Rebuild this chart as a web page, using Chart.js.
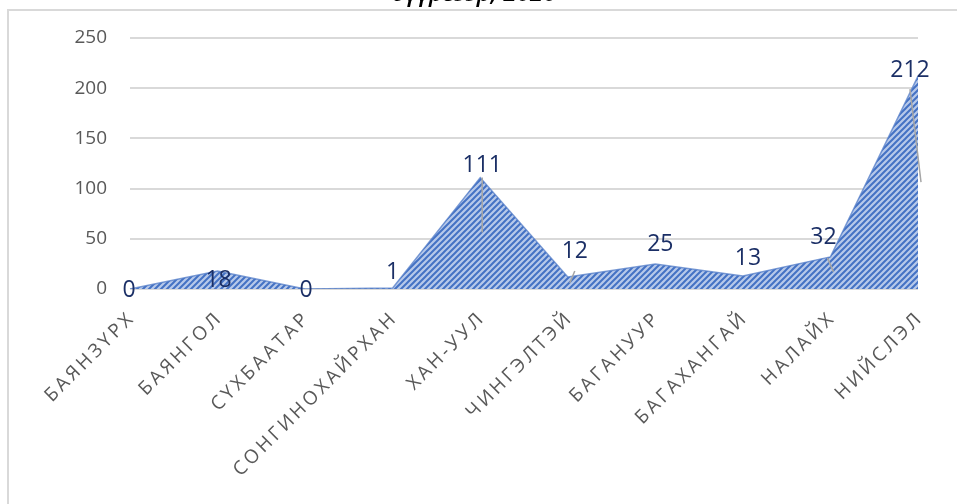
<!DOCTYPE html>
<html>
<head>
<meta charset="utf-8">
<script src="https://cdn.jsdelivr.net/npm/chart.js@4"></script>
<style>
  html, body { margin: 0; padding: 0; background: #fff; }
  #wrap { width: 957px; height: 504px; }
</style>
</head>
<body>
<div id="wrap"><canvas id="areaChart" width="957" height="504"></canvas></div>
<script>
// data
var districts = ['БАЯНЗҮРХ', 'БАЯНГОЛ', 'СҮХБААТАР', 'СОНГИНОХАЙРХАН', 'ХАН-УУЛ',
                 'ЧИНГЭЛТЭЙ', 'БАГАНУУР', 'БАГАХАНГАЙ', 'НАЛАЙХ', 'НИЙСЛЭЛ'];
var counts = [0, 18, 0, 1, 111, 12, 25, 13, 32, 212];
var yTicks = [0, 50, 100, 150, 200, 250];
var titleTail = 'дүүргээр, 2020';

// where each value label sits relative to its point (px)
var labelShift = [[-1, 1], [1, 10], [1, 1], [0, -16], [2, -12], [7, -25], [5, -19], [5, -17], [-7, -19], [-8, -6]];
// grey leader lines, relative to the point: [x1, y1, x2, y2]
var leaders = { 4: [2, 0, 2, 55], 5: [7, -6, 2, 6], 8: [-3, 1, 3, 15], 9: [-8, 13, 3, 106] };

function hatch() {
    var c = document.createElement('canvas');
    c.width = 6; c.height = 6;
    var g = c.getContext('2d');
    g.fillStyle = '#b7c9ea';
    g.fillRect(0, 0, 6, 6);
    g.strokeStyle = '#4472c4';
    g.lineWidth = 2;
    g.beginPath();
    g.moveTo(-1, 7); g.lineTo(7, -1);
    g.moveTo(-4, 4); g.lineTo(4, -4);
    g.moveTo(2, 10); g.lineTo(10, 2);
    g.stroke();
    return g.createPattern(c, 'repeat');
}

// Excel spaces the category letters out
function spaced(s) {
    return s.split('').join('\u2009');
}

var frameAndLabels = {
    id: 'frameAndLabels',
    beforeDraw: function(chart) {
        var ctx = chart.ctx;
        ctx.save();
        ctx.strokeStyle = '#d9d9d9';
        ctx.lineWidth = 2;
        ctx.beginPath();
        ctx.moveTo(8, 504); ctx.lineTo(8, 10); ctx.lineTo(957, 10);
        ctx.stroke();
        ctx.restore();
    },
    afterDraw: function(chart) {
        var ctx = chart.ctx;
        var pts = chart.getDatasetMeta(0).data;
        ctx.save();
        ctx.strokeStyle = '#a6a6a6';
        ctx.lineWidth = 1.5;
        Object.keys(leaders).forEach(function(k) {
            var p = pts[k], l = leaders[k];
            ctx.beginPath();
            ctx.moveTo(p.x + l[0], p.y + l[1]);
            ctx.lineTo(p.x + l[2], p.y + l[3]);
            ctx.stroke();
        });
        ctx.fillStyle = '#1b2f66';
        ctx.font = '23px "Open Sans"';
        ctx.textAlign = 'center';
        ctx.textBaseline = 'middle';
        pts.forEach(function(p, i) {
            ctx.fillText(String(counts[i]), p.x + labelShift[i][0], p.y + labelShift[i][1]);
        });
        ctx.fillStyle = '#000';
        ctx.font = 'italic 600 24px "Open Sans"';
        ctx.textBaseline = 'alphabetic';
        ctx.fillText(titleTail, 474, 1);
        ctx.restore();
    }
};

var ctx = document.getElementById('areaChart').getContext('2d');
new Chart(ctx, {
    type: 'line',
    data: {
        labels: districts,
        datasets: [{
            data: counts,
            fill: 'origin',
            backgroundColor: hatch(),
            borderColor: 'rgba(84,125,200,0.75)',
            borderWidth: 1.5,
            pointRadius: 0,
            tension: 0
        }]
    },
    options: {
        responsive: false,
        animation: false,
        layout: { padding: { left: 0, top: 38, right: 39, bottom: 0 } },
        plugins: { legend: { display: false }, tooltip: { enabled: false } },
        scales: {
            x: {
                offset: false,
                grid: { display: false },
                border: { display: false },
                ticks: {
                    color: '#595959',
                    font: { family: 'Open Sans', size: 19 },
                    minRotation: 45,
                    maxRotation: 45,
                    padding: 12,
                    autoSkip: false,
                    callback: function(v, i) { return spaced(districts[i]); }
                },
                afterFit: function(s) { s.height = 215; }
            },
            y: {
                min: 0,
                max: 250,
                afterBuildTicks: function(s) { s.ticks = yTicks.map(function(v) { return { value: v }; }); },
                grid: { color: '#d9d9d9', lineWidth: 2, drawTicks: false },
                border: { display: false },
                ticks: {
                    color: '#595959',
                    font: { family: 'Open Sans', size: 19 },
                    padding: 23
                },
                afterFit: function(s) { s.width = 130; }
            }
        }
    },
    plugins: [frameAndLabels]
});
</script>
</body>
</html>
